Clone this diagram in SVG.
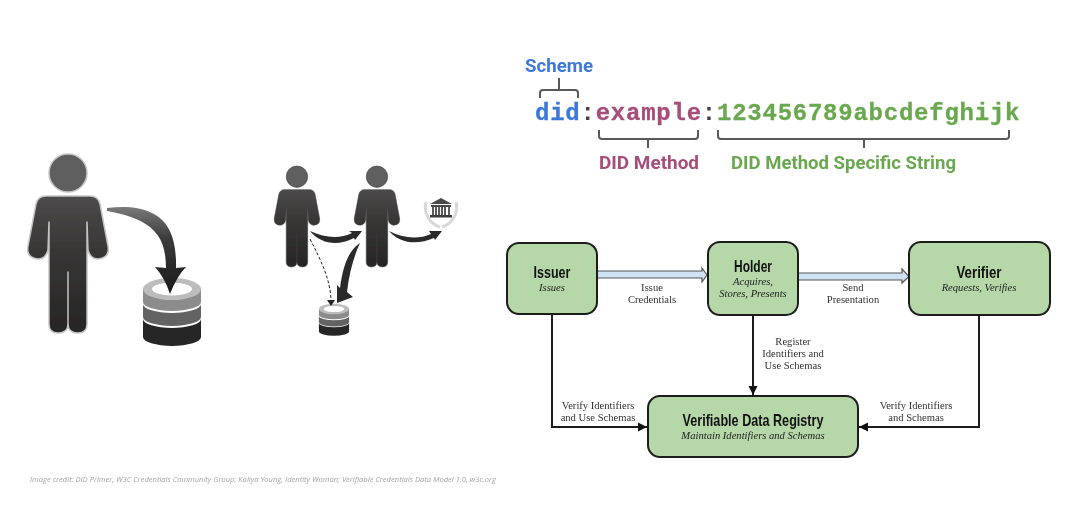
<svg xmlns="http://www.w3.org/2000/svg" xmlns:xlink="http://www.w3.org/1999/xlink" width="1080" height="509" viewBox="0 0 1080 509">
<style>
.box{fill:#b6d7a8;stroke:#1c1c1c;stroke-width:2}
.ttl{font-family:"Liberation Sans",sans-serif;font-weight:700;font-size:16.5px;fill:#111;text-anchor:middle}
.sub{font-family:"Liberation Serif",serif;font-style:italic;font-size:10.6px;fill:#222;text-anchor:middle}
.lbl{font-family:"Liberation Serif",serif;font-size:10.6px;fill:#333;text-anchor:middle}
.line{fill:none;stroke:#1c1c1c;stroke-width:2}
.hollow{fill:#cfe2f3;stroke:#555;stroke-width:1.2}
.brk{fill:none;stroke:#595959;stroke-width:2;stroke-linejoin:round}
.code{font-family:"Liberation Mono",monospace;font-weight:700;font-size:24px;letter-spacing:.76px;stroke-width:.3px}
.cap{font-family:Roboto,"Liberation Sans",sans-serif;font-weight:700;font-size:18px}
.icon{filter:url(#soft)}
</style>
<defs>
<filter id="soft" x="-5%" y="-5%" width="110%" height="110%"><feGaussianBlur stdDeviation="0.5"/></filter>
<linearGradient id="pg" x1="0" y1="0" x2="0" y2="1"><stop offset="0" stop-color="#4c4a4a"/><stop offset="0.4" stop-color="#383636"/><stop offset="1" stop-color="#262525"/></linearGradient>
<linearGradient id="ag" x1="0" y1="0" x2="0" y2="1"><stop offset="0" stop-color="#7a7a7a"/><stop offset="0.35" stop-color="#3c3c3c"/><stop offset="1" stop-color="#1a1a1a"/></linearGradient>
<marker id="tip" markerUnits="userSpaceOnUse" markerWidth="10" markerHeight="10" refX="9" refY="5" orient="auto"><path d="M0,0.5 L9,5 L0,9.5 Z" fill="#111"/></marker>
<g id="person">
<circle cx="68" cy="173" r="19" fill="#5e5e5e"/>
<path d="M46,196 L90,196 Q98,196 100,204 L108,246 Q110,258 98,259 Q90,259 88,250 L87,222 L87,324 Q87,333 78,333 Q68,333 68,324 L68,272 L68,324 Q68,333 58,333 Q49,333 49,324 L49,222 L48,250 Q46,259 38,259 Q26,258 28,246 L36,204 Q38,196 46,196 Z" fill="url(#pg)" stroke-linejoin="round"/>
</g>
<g id="db">
<path d="M-29,30 L-29,48 A29,9 0 0 0 29,48 L29,30 A29,9 0 0 1 -29,30 Z" fill="#262626"/>
<path d="M-29,15 L-29,28 A29,9 0 0 0 29,28 L29,15 A29,9 0 0 1 -29,15 Z" fill="#636363"/>
<path d="M-29,0 L-29,13 A29,9 0 0 0 29,13 L29,0 Z" fill="#8c8c8c"/>
<ellipse cx="0" cy="0" rx="29" ry="11" fill="#bcbcbc"/>
<ellipse cx="0" cy="0" rx="20" ry="6.5" fill="#fff"/>
</g>
</defs>
<rect width="1080" height="509" fill="#fff"/>

<g id="self-sovereign" class="icon">
<use id="person-large" href="#person" xlink:href="#person" stroke="#c4c4c4" stroke-width="1.5"/>
<use id="db-large" href="#db" xlink:href="#db" transform="translate(172,289)"/>
<path id="arrow-large" d="M107,208 C125,206 140,207 152,213 C168,221 175,236 176,260 L176,268 L186,267 Q177,276 170,294 Q165,278 155,267 L166,268 C166,250 162,237 150,227 C140,219 125,214 107,211 Z" fill="url(#ag)"/>
</g>

<g id="federated" class="icon">
<use id="person-a" href="#person" xlink:href="#person" transform="translate(258.6,79.1) scale(.564)" stroke="#3e3e3e" stroke-width="1"/>
<use id="person-b" href="#person" xlink:href="#person" transform="translate(338.6,79.1) scale(.564)" stroke="#3e3e3e" stroke-width="1"/>
<use id="db-small" href="#db" xlink:href="#db" transform="translate(334,309) scale(.52,.47)"/>
<g id="bank">
<path d="M426,202 C423,213 430,224 440,227 M456,202 C459,213 452,224 442,227" fill="none" stroke="#d8d8d8" stroke-width="3"/>
<path d="M430,204 L441,198 L452,204 Z" fill="#4a4a4a"/>
<rect x="431" y="205" width="20" height="2" fill="#4a4a4a"/>
<path d="M433,207V215M436,207V215M439,207V215M442,207V215M445,207V215M449,207V215" stroke="#4a4a4a" stroke-width="1.800" fill="none"/>
<rect x="430" y="215" width="22" height="2.500" fill="#3d3d3d"/>
</g>
<path d="M310,231 C325,238 340,239 352,233 L349,231 L362,231 L355,240 L354,238 C338,246 322,245 310,231 Z" fill="#2c2c2c"/>
<path d="M389,231 C402,238 418,240 431,234 L429,231 L442,231 L435,240 L434,238 C418,245 400,244 389,231 Z" fill="#2c2c2c"/>
<path d="M360,243 C349,250 343,265 340,288 L337,285 L337,303 L353,297 L347,292 C349,275 353,258 360,243 Z" fill="#2c2c2c"/>
<path d="M310,239 C322,262 330,280 331,299" fill="none" stroke="#222" stroke-width="1" stroke-dasharray="3 2"/>
<path d="M327,300 L335,300 L331,306 Z" fill="#222"/>
</g>

<g id="did-syntax">
<text class="cap" x="525" y="72" fill="#3c78d8" textLength="68" lengthAdjust="spacingAndGlyphs">Scheme</text>
<path class="brk" d="M540,98 V93 Q540,90 543,90 H575 Q578,90 578,93 V98 M559,90 V78"/>
<text class="code" x="535" y="120"><tspan fill="#3c78d8" stroke="#3c78d8">did</tspan><tspan fill="#434343">:</tspan><tspan fill="#a64d79" stroke="#a64d79">example</tspan><tspan fill="#434343">:</tspan><tspan fill="#6aa84f" stroke="#6aa84f">123456789abcdefghijk</tspan></text>
<path class="brk" d="M599,130 V136 Q599,139 602,139 H695 Q698,139 698,136 V130 M648,139 V148"/>
<path class="brk" d="M718,130 V136 Q718,139 721,139 H1006 Q1009,139 1009,136 V130 M864,139 V148"/>
<text class="cap" x="599" y="169" fill="#a64d79" textLength="100" lengthAdjust="spacingAndGlyphs">DID Method</text>
<text class="cap" x="731" y="169" fill="#6aa84f" textLength="225" lengthAdjust="spacingAndGlyphs">DID Method Specific String</text>
</g>

<g id="connectors">
<path class="hollow" d="M597,271 H702 V268 L707,275 L702,282 V278 H597 Z"/>
<path class="hollow" d="M798,273 H902 V269 L909,276.500 L902,283 V280 H798 Z"/>
<path class="line" d="M552,314 V427 H647" marker-end="url(#tip)"/>
<path class="line" d="M753,315 V395" marker-end="url(#tip)"/>
<path class="line" d="M979,315 V427 H859" marker-end="url(#tip)"/>
<text class="lbl" x="652" y="291">Issue</text>
<text class="lbl" x="652" y="303">Credentials</text>
<text class="lbl" x="853" y="291">Send</text>
<text class="lbl" x="853" y="303">Presentation</text>
<text class="lbl" x="793" y="345">Register</text>
<text class="lbl" x="793" y="357">Identifiers and</text>
<text class="lbl" x="793" y="369">Use Schemas</text>
<text class="lbl" x="598" y="409">Verify Identifiers</text>
<text class="lbl" x="598" y="421">and Use Schemas</text>
<text class="lbl" x="916" y="409">Verify Identifiers</text>
<text class="lbl" x="916" y="421">and Schemas</text>
</g>

<g id="issuer">
<rect class="box" x="507" y="243" width="90" height="71" rx="12"/>
<text class="ttl" x="552" y="278" textLength="37" lengthAdjust="spacingAndGlyphs">Issuer</text>
<text class="sub" x="552" y="291">Issues</text>
</g>
<g id="holder">
<rect class="box" x="708" y="242" width="90" height="73" rx="12"/>
<text class="ttl" x="753" y="272" textLength="38" lengthAdjust="spacingAndGlyphs">Holder</text>
<text class="sub" x="753" y="285">Acquires,</text>
<text class="sub" x="753" y="297">Stores, Presents</text>
</g>
<g id="verifier">
<rect class="box" x="909" y="242" width="141" height="73" rx="12"/>
<text class="ttl" x="979" y="278" textLength="45" lengthAdjust="spacingAndGlyphs">Verifier</text>
<text class="sub" x="979" y="291">Requests, Verifies</text>
</g>
<g id="registry">
<rect class="box" x="648" y="396" width="210" height="61" rx="12"/>
<text class="ttl" x="753" y="426" textLength="141" lengthAdjust="spacingAndGlyphs">Verifiable Data Registry</text>
<text class="sub" x="753" y="439">Maintain Identifiers and Schemas</text>
</g>

<text id="credit" x="30" y="482" font-family="'Open Sans','Noto Sans',sans-serif" font-style="italic" font-size="7.8" fill="#a3a3a3" textLength="466" lengthAdjust="spacingAndGlyphs">Image credit: DID Primer, W3C Credentials Community Group; Kaliya Young, Identity Woman; Verifiable Credentials Data Model 1.0, w3c.org</text>
</svg>
